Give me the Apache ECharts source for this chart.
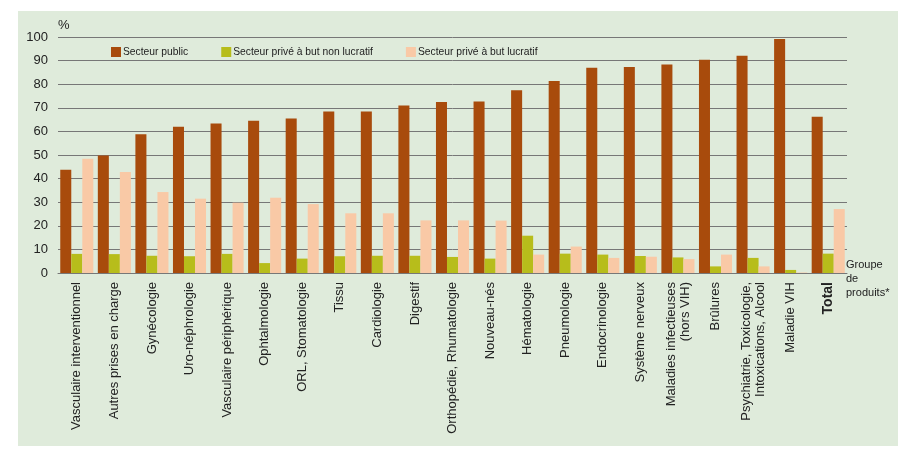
<!DOCTYPE html>
<html>
<head>
<meta charset="utf-8">
<script src="https://cdn.jsdelivr.net/npm/echarts@6/dist/echarts.min.js"></script>
<style>
html,body{margin:0;padding:0;background:#fff;}
#c{width:909px;height:464px;}
</style>
</head>
<body>
<div id="c"></div>
<script>
var categories = [
  "Vasculaire interventionnel","Autres prises en charge","Gynécologie","Uro-néphrologie",
  "Vasculaire périphérique","Ophtalmologie","ORL, Stomatologie","Tissu","Cardiologie",
  "Digestif","Orthopédie, Rhumatologie","Nouveau-nés","Hématologie","Pneumologie",
  "Endocrinologie","Système nerveux","Maladies infectieuses\n(hors VIH)","Brûlures",
  "Psychiatrie, Toxicologie,\nIntoxications, Alcool","Maladie VIH","Total"
];
var seriesNames = ["Secteur public","Secteur privé à but non lucratif","Secteur privé à but lucratif"];
var publicVals = [43.8,49.8,58.8,62.0,63.3,64.5,65.5,68.4,68.4,71.0,72.5,72.7,77.4,81.4,87.0,87.3,88.4,90.4,92.1,99.2,66.2];
var nonLucratifVals = [8.1,8.0,7.3,7.1,8.1,4.2,6.1,7.1,7.3,7.3,6.8,6.1,15.8,8.2,7.8,7.2,6.6,2.8,6.4,1.3,8.2];
var lucratifVals = [48.4,42.8,34.3,31.5,29.8,31.9,29.2,25.3,25.3,22.3,22.3,22.2,7.8,11.2,6.4,6.9,5.9,7.8,2.8,0.2,27.1];
var yTicks = [0,10,20,30,40,50,60,70,80,90,100];

var chart = echarts.init(document.getElementById('c'), null, {renderer:'canvas'});
var font = 'Liberation Sans, Arial, sans-serif';
var colors = ['#A84B0C','#B7BD1B','#F9C9A6'];
chart.setOption({
  backgroundColor: '#ffffff',
  animation: false,
  textStyle: {fontFamily: font},
  color: colors,
  graphic: [
    {type:'rect', z:-10, shape:{x:18,y:11,width:880,height:435}, style:{fill:'#DFEBDB'}},
    {type:'text', left:58, top:19, style:{text:'%', fontSize:13, fill:'#222', fontFamily:font}},
    {type:'text', left:846, top:258, style:{text:'Groupe\nde\nproduits*', fontSize:11, lineHeight:14, fill:'#222', fontFamily:font}}
  ],
  legend: {
    data: seriesNames,
    left: 106, top: 42,
    icon: 'rect', itemWidth: 10, itemHeight: 10, itemGap: 33,
    textStyle: {fontSize: 10.3, color: '#222', fontFamily: font, padding:[0,0,0,-3]}
  },
  grid: {left: 58, right: 62, top: 37, bottom: 191, containLabel: false},
  xAxis: {
    type: 'category',
    data: categories,
    axisLine: {show: true, lineStyle: {color: '#777', width: 1}},
    axisTick: {show: false},
    axisLabel: {
      interval: 0, rotate: 90, fontSize: 13, color: '#222', margin: 9, lineHeight: 14,
      formatter: function (v) { return v === 'Total' ? '{b|Total}' : v; },
      rich: {b: {fontWeight: 'bold', fontSize: 14, color: '#222'}}
    }
  },
  yAxis: {
    type: 'value', min: 0, max: 100, interval: 10,
    axisLine: {show: false}, axisTick: {show: false},
    axisLabel: {fontSize: 13, color: '#222', margin: 10,
      customValues: yTicks},
    splitLine: {lineStyle: {color: '#777', width: 1}}
  },
  series: [
    {name: seriesNames[0], type: 'bar', data: publicVals, barGap: '0%', barCategoryGap: '12%'},
    {name: seriesNames[1], type: 'bar', data: nonLucratifVals, barGap: '0%', barCategoryGap: '12%'},
    {name: seriesNames[2], type: 'bar', data: lucratifVals, barGap: '0%', barCategoryGap: '12%'}
  ]
});
</script>
</body>
</html>
